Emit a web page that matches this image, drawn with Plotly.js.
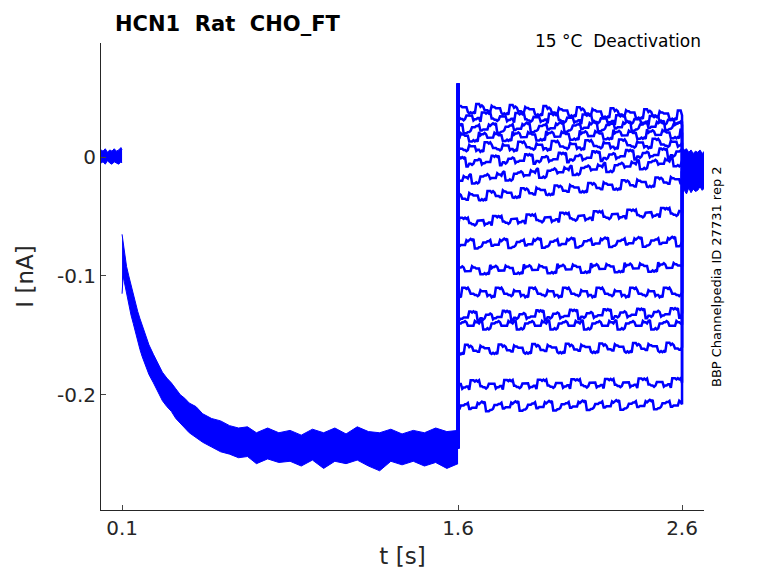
<!DOCTYPE html>
<html>
<head>
<meta charset="utf-8">
<script src="https://cdn.plot.ly/plotly-3.0.1.min.js"></script>
<style>body{margin:0}#chart{width:778px;height:583px}</style>
</head>
<body>
<div id="chart"></div>
<script>
// baseline before the step (s, nA)
var baseT = [0.006, 0.015, 0.025, 0.035, 0.045, 0.055, 0.065, 0.075, 0.085, 0.095, 0.1]
var baseHi = [0.006, 0.005, 0.007, 0.004, 0.006, 0.005, 0.007, 0.005, 0.006, 0.008, 0.006]
var baseLo = [-0.005, -0.004, -0.006, -0.003, -0.005, -0.006, -0.004, -0.005, -0.006, -0.004, -0.005]

// deactivation decay band, 0.1 .. 1.6 s
var decayT = [0.1, 0.105, 0.11, 0.12, 0.13, 0.14, 0.15, 0.16, 0.17, 0.18, 0.19, 0.2, 0.22, 0.24, 0.26, 0.28, 0.3, 0.32, 0.34, 0.36, 0.38, 0.4, 0.43, 0.46, 0.5, 0.54, 0.58, 0.62, 0.66, 0.7, 0.75, 0.8, 0.85, 0.9, 0.95, 1.0, 1.05, 1.1, 1.15, 1.2, 1.25, 1.3, 1.35, 1.4, 1.45, 1.5, 1.55, 1.6]
var decayHi = [-0.065, -0.072, -0.08, -0.092, -0.1, -0.108, -0.115, -0.122, -0.13, -0.136, -0.142, -0.147, -0.158, -0.166, -0.174, -0.181, -0.186, -0.19, -0.195, -0.2, -0.203, -0.207, -0.21, -0.216, -0.22, -0.222, -0.226, -0.228, -0.227, -0.232, -0.228, -0.232, -0.23, -0.234, -0.229, -0.232, -0.228, -0.233, -0.227, -0.231, -0.232, -0.229, -0.233, -0.23, -0.232, -0.228, -0.231, -0.23]
var decayLo = [-0.115, -0.1, -0.105, -0.115, -0.124, -0.133, -0.14, -0.148, -0.155, -0.162, -0.168, -0.173, -0.183, -0.19, -0.198, -0.205, -0.21, -0.214, -0.22, -0.224, -0.228, -0.232, -0.236, -0.24, -0.244, -0.248, -0.25, -0.253, -0.252, -0.258, -0.254, -0.257, -0.256, -0.26, -0.255, -0.262, -0.256, -0.258, -0.255, -0.26, -0.264, -0.256, -0.259, -0.256, -0.26, -0.257, -0.262, -0.258]

// tail traces after 2.6 s
var tailT = [2.6, 2.61, 2.62, 2.63, 2.64, 2.65, 2.66, 2.67, 2.68, 2.69, 2.7]
var tailHi = [0.008, 0.006, 0.007, 0.004, 0.006, 0.003, 0.005, 0.004, 0.006, 0.003, 0.005]
var tailLo = [-0.03, -0.028, -0.031, -0.026, -0.03, -0.027, -0.029, -0.028, -0.025, -0.028, -0.026]

// test-step levels (start and end of each sweep, nA)
var stepStart = [0.041, 0.034, 0.024, 0.017, 0.008, -0.004, -0.019, -0.034, -0.055, -0.073, -0.095, -0.114, -0.134, -0.141, -0.162, -0.192, -0.210]
var stepEnd = [0.035, 0.030, 0.027, 0.020, 0.012, 0.004, -0.003, -0.019, -0.046, -0.071, -0.092, -0.114, -0.131, -0.141, -0.160, -0.190, -0.208]
var stepT = [1.6, 1.65, 1.7, 1.75, 1.8, 1.85, 1.9, 1.95, 2.0, 2.05, 2.1, 2.15, 2.2, 2.25, 2.3, 2.35, 2.4, 2.45, 2.5, 2.55, 2.6]
// small wiggle (nA)
var wiggle = [0.003, -0.004, 0.001, -0.002, 0.004, -0.001, 0.002, -0.004, 0.001, -0.001, 0.003, -0.002, 0.001, -0.004, 0.002, -0.001, 0.003, -0.003, 0.001, -0.004, 0.002]

var blue = 'rgb(0,0,255)'
var traces = []
var band = function (x, lo, hi) {
    traces.push({x: x, y: lo, mode: 'lines', line: {color: blue, width: 1}, hoverinfo: 'skip'})
    traces.push({x: x, y: hi, mode: 'lines', line: {color: blue, width: 1}, fill: 'tonexty', fillcolor: blue, hoverinfo: 'skip'})
}
band(baseT, baseLo, baseHi)
band(decayT, decayLo, decayHi)
band(tailT, tailLo, tailHi)

stepStart.forEach((s, i) => {
    let xs = [1.6, 1.6]
    let ys = [-0.245, 0.062]
    let n = stepT.length
    for (let k = 0; k < n - 1; k++) {
        let base = s + (stepEnd[i] - s) * k / (n - 1)
        for (let j = 0; j < 8; j++) {
            xs.push(stepT[k] + j * 0.05 / 8)
            ys.push(base + wiggle[(k * 7 + j * 3 + i * 5) % n] * (j % 2 ? -1 : 1))
        }
    }
    xs.push(2.6, 2.6)
    ys.push(stepEnd[i], -0.012)
    traces.push({x: xs, y: ys, mode: 'lines', line: {color: blue, width: 2.5}, hoverinfo: 'skip'})
})

var layout = {
    width: 778, height: 583,
    margin: {l: 101, r: 74, t: 43, b: 73},
    showlegend: false,
    paper_bgcolor: 'white', plot_bgcolor: 'white',
    font: {family: 'DejaVu Sans', color: '#262626'},
    xaxis: {
        range: [0.006, 2.698], tickvals: [0.1, 1.6, 2.6], ticktext: ['0.1', '1.6', '2.6'],
        showgrid: false, zeroline: false, showline: true, linecolor: '#262626',
        ticks: 'inside', ticklen: 5, tickfont: {size: 20},
        title: {text: 't [s]', font: {size: 23}, standoff: 8}
    },
    yaxis: {
        range: [-0.297, 0.096], tickvals: [0, -0.1, -0.2], ticktext: ['0', '-0.1', '-0.2'],
        showgrid: false, zeroline: false, showline: true, linecolor: '#262626',
        ticks: 'inside', ticklen: 5, tickfont: {size: 20},
        title: {text: 'I [nA]', font: {size: 23}, standoff: 16}
    },
    annotations: [
        {text: '<b>HCN1  Rat  CHO_FT</b>', xref: 'paper', yref: 'paper', x: 0.02, y: 1.01, xanchor: 'left', yanchor: 'bottom', showarrow: false, font: {size: 21, color: 'black'}},
        {text: '15 °C  Deactivation', xref: 'paper', yref: 'paper', x: 0.998, y: 0.978, xanchor: 'right', yanchor: 'bottom', showarrow: false, font: {size: 17, color: 'black'}},
        {text: 'BBP Channelpedia ID 27731 rep 2', xref: 'paper', yref: 'paper', x: 1.005, y: 0.5, xanchor: 'left', yanchor: 'middle', textangle: -90, showarrow: false, font: {size: 13, color: 'black'}}
    ]
}

Plotly.newPlot('chart', traces, layout, {displayModeBar: false})
</script>
</body>
</html>
